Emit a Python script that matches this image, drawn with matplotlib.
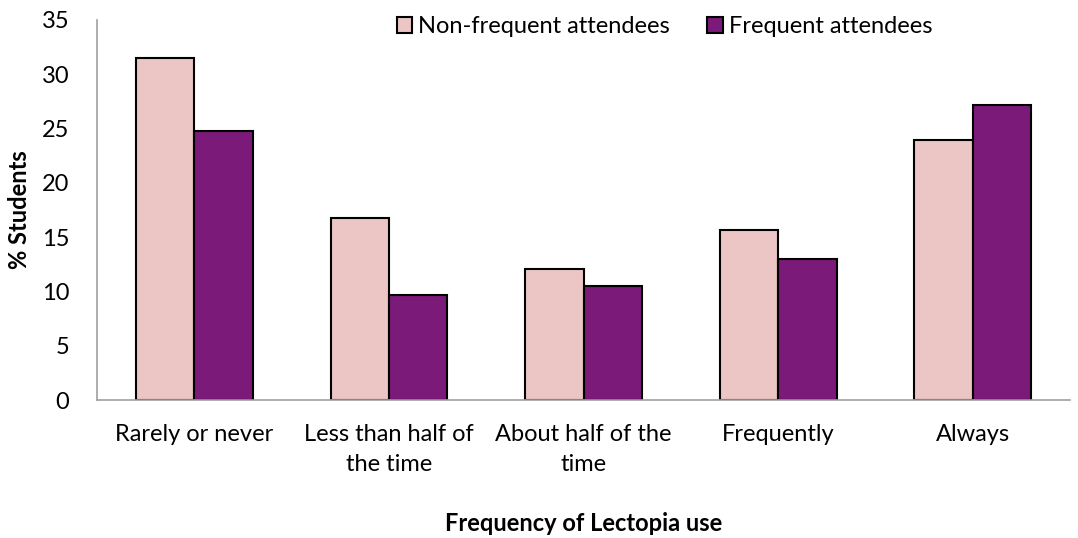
import matplotlib.pyplot as plt
import numpy as np

# Data
categories = ['Rarely or never', 'Less than half of\nthe time', 'About half of the\ntime',
              'Frequently', 'Always']
non_frequent = [31.5, 16.8, 12.1, 15.7, 23.9]
frequent = [24.8, 9.7, 10.5, 13.0, 27.2]
series_names = ['Non-frequent attendees', 'Frequent attendees']

plt.rcParams['font.family'] = ['Lato', 'DejaVu Sans']

fig = plt.figure(figsize=(10.78, 5.38), dpi=100)
ax = fig.add_axes([0.090, 0.2565, 0.9026, 0.7065])

x = np.arange(len(categories))
w = 0.3
ax.bar(x - w / 2, non_frequent, w, color='#ebc6c5', edgecolor='black', linewidth=1.5,
       label=series_names[0])
ax.bar(x + w / 2, frequent, w, color='#7b1a78', edgecolor='black', linewidth=1.5,
       label=series_names[1])

ax.set_xlim(-0.5, len(categories) - 0.5)
ax.set_ylim(0, 35)
ax.set_yticks(range(0, 36, 5))
ax.set_xticks(x)
ax.set_xticklabels(categories, fontsize=17, linespacing=1.55)
ax.tick_params(axis='y', labelsize=17, length=0, pad=20)
ax.tick_params(axis='x', length=0, pad=17)

for s in ['top', 'right']:
    ax.spines[s].set_visible(False)
for s in ['left', 'bottom']:
    ax.spines[s].set_color('#a0a0a0')
    ax.spines[s].set_linewidth(1.2)

ax.set_ylabel('% Students', fontsize=17, fontweight='bold', labelpad=8)
ax.set_xlabel('Frequency of Lectopia use', fontsize=17, fontweight='bold', labelpad=27)

ax.legend(loc='upper center', bbox_to_anchor=(0.583, 1.065), ncol=2, frameon=False,
          fontsize=17, handlelength=0.65, handleheight=0.65, handletextpad=0.25,
          columnspacing=1.6)

fig.savefig('out.png', dpi=100)
